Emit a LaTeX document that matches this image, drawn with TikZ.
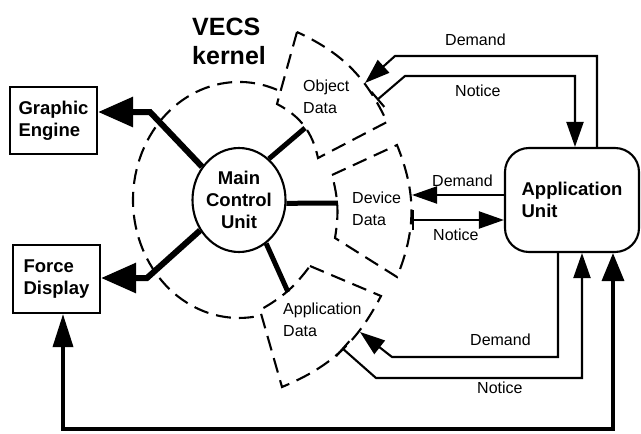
\documentclass[tikz,border=0pt]{standalone}
\usepackage{fontspec}
\setmainfont{Liberation Sans}
\usetikzlibrary{arrows.meta,shapes.geometric}
\begin{document}
\begin{tikzpicture}[x=1pt,y=-1pt,
  every node/.style={inner sep=0pt},
  solidline/.style={line width=2.1pt},
  dashline/.style={line width=2.1pt, dash pattern=on 15pt off 8pt},
  boldlbl/.style={font=\bfseries\fontsize{18.5}{22}\selectfont},
  boxnode/.style={draw, line width=2.1pt, align=left, boldlbl},
  smalllbl/.style={font=\fontsize{16}{22}\selectfont, align=left},
  dem/.style={solidline, -{Triangle[length=25pt,width=17pt]}},
  ntc/.style={solidline, {Bar[width=20pt]}-{Triangle[length=25pt,width=17pt]}},
  fat/.style={line width=6pt, -{Triangle[length=35pt,width=29pt]}},
  link/.style={line width=5pt},
]
\useasboundingbox (0,0) rectangle (641,434);

% main nodes
\node[boxnode, minimum width=87pt, minimum height=67pt] (ge) at (53.5,120.5) {Graphic\\Engine};
\node[boxnode, minimum width=87pt, minimum height=68pt] (fd) at (56.5,279) {Force\\Display};
\node[draw, ellipse, line width=2.1pt, minimum width=92pt, minimum height=104pt, align=center, boldlbl] (mcu) at (239,200) {Main\\Control\\Unit};
\node[draw, rounded corners=24pt, line width=2.1pt, minimum width=134pt, minimum height=104pt, align=left, boldlbl] (au) at (572,200) {Application\\Unit};
\node[anchor=north west, align=left, font=\bfseries\fontsize{25}{29}\selectfont] (vk) at (192,18) {VECS\\kernel};

% kernel ring
\draw[dashline] (277,89.8) arc[start angle=-69, end angle=-280, x radius=106, y radius=118];

% sectors
\draw[dashline] (297,32) -- (277,104) to[bend left=25] (318,158) -- (387,122) to[bend right=20] (297,32);
\draw[dashline] (332,175) -- (397,145) to[bend left=22] (397,277) -- (335,238) to[bend right=12] (332,175);
\draw[dashline] (310,266) -- (381,296) to[bend left=20] (282,387) -- (260,310) to[bend right=12] (310,266);

\node[smalllbl, anchor=north west] (odl) at (303,80) {Object\\Data};
\node[smalllbl, anchor=north west] (ddl) at (352,192) {Device\\Data};
\node[smalllbl, anchor=north west] (adl) at (283,303) {Application\\Data};

% coordinates
\coordinate (odin) at (305,128);
\coordinate (ddin) at (338,203);
\coordinate (adin) at (288,292);
\coordinate (odD) at (365,83);
\coordinate (odN) at (377,100);
\coordinate (ddD) at (412,195);
\coordinate (ddN) at (412,220);
\coordinate (adD) at (360,332);
\coordinate (adN) at (342,348);
\coordinate (ge1) at (150,112);
\coordinate (fd1) at (147,278);
\coordinate (bl) at (63,429);
\coordinate (br) at (613,429);

% links from main control unit
\draw[link] (mcu.54) -- (odin);
\draw[link] (mcu.-4) -- (ddin);
\draw[link] (mcu.-58) -- (adin);
\draw[fat] (mcu.138) -- (ge1) -- (ge1 -| ge.east);
\draw[fat] (mcu.218) -- (fd1) -- (fd1 -| fd.east);

% demand / notice
\draw[dem] ([xshift=25pt]au.north) |- (395,56) -- (odD);
\draw[ntc] (odN) -- (405,76) -| ([xshift=3pt]au.north);
\draw[dem] ([yshift=5pt]au.west) -- (ddD);
\draw[ntc] (ddN) -- ([yshift=-20pt]au.west);
\draw[dem] ([xshift=-14pt]au.south) |- (392,357) -- (adD);
\draw[ntc] (adN) -- (376,378) -| ([xshift=10pt]au.south);
\draw[line width=3.5pt, {Triangle[length=33pt,width=20pt]}-{Triangle[length=28pt,width=22pt]}] ([xshift=6.5pt]fd.south) -- (bl) -- (br) -- ([xshift=41pt]au.south);

\node[smalllbl, anchor=base west] (t1) at (445,45) {Demand};
\node[smalllbl, anchor=base west] (t2) at (455,96) {Notice};
\node[smalllbl, anchor=base west] (t3) at (432,186) {Demand};
\node[smalllbl, anchor=base west] (t4) at (433,240) {Notice};
\node[smalllbl, anchor=base west] (t5) at (470,345) {Demand};
\node[smalllbl, anchor=base west] (t6) at (477,393) {Notice};
\end{tikzpicture}
\end{document}
